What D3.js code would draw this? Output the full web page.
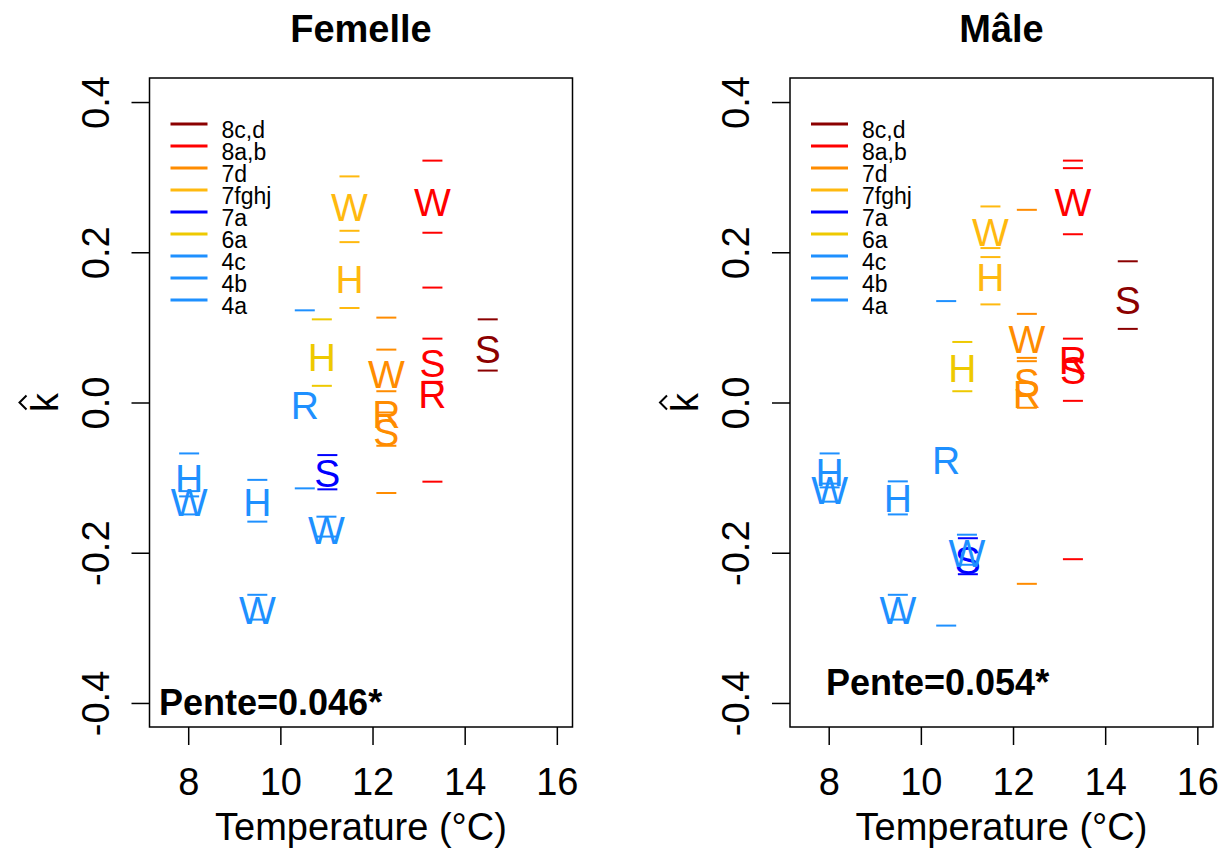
<!DOCTYPE html>
<html>
<head>
<meta charset="utf-8">
<script src="https://cdn.jsdelivr.net/npm/d3@7"></script>
<style>
  body { margin: 0; background: #fff; }
  svg { display: block; font-family: "Liberation Sans", Arial, Helvetica, sans-serif; }
</style>
</head>
<body>
<svg id="chart" width="1221" height="848"></svg>
<script>
// regions (legend order) and their colours
const groups = ["8c,d", "8a,b", "7d", "7fghj", "7a", "6a", "4c", "4b", "4a"];
const groupColors = ["#8B0000", "#FF0000", "#FF8C00", "#FFB90F", "#0000FF", "#EEC900", "#1E90FF", "#1E90FF", "#1E90FF"];

const xTicks = [8, 10, 12, 14, 16];
const yTicks = [-0.4, -0.2, 0, 0.2, 0.4];

// Femelle
const femLetters = ["S", "W", "S", "R", "W", "R", "S", "W", "H", "S", "H", "R", "W", "H", "W", "H", "W"];
const femGroup = ["8c,d", "8a,b", "8a,b", "8a,b", "7d", "7d", "7d", "7fghj", "7fghj", "7a", "6a", "4c", "4c", "4b", "4b", "4a", "4a"];
const femTemp = [14.5, 13.3, 13.3, 13.3, 12.3, 12.3, 12.3, 11.5, 11.5, 11.02, 10.9, 10.53, 11.0, 9.5, 9.5, 8.02, 8.02];
const femK = [0.071, 0.2675, 0.052, 0.012, 0.0385, -0.0146, -0.039, 0.26, 0.165, -0.094, 0.0607, -0.0035, -0.17, -0.132, -0.276, -0.1, -0.132];
const femLo = [0.0425, 0.226, 0.0275, -0.1054, 0.015, -0.1205, -0.0576, 0.2286, 0.1258, -0.1156, 0.0222, -0.1143, -0.1785, -0.1586, -0.289, -0.118, -0.149];
const femHi = [0.1107, 0.322, 0.085, 0.153, 0.0704, 0.113, -0.0133, 0.301, 0.2135, -0.07, 0.1107, 0.1227, -0.152, -0.103, -0.256, -0.0678, -0.125];

// Mâle
const maleLetters = ["S", "W", "R", "S", "W", "S", "R", "W", "H", "S", "H", "R", "W", "H", "W", "H", "W"];
const maleGroup = ["8c,d", "8a,b", "8a,b", "8a,b", "7d", "7d", "7d", "7fghj", "7fghj", "7a", "6a", "4c", "4c", "4b", "4b", "4a", "4a"];
const maleTemp = [14.49, 13.3, 13.3, 13.3, 12.3, 12.3, 12.3, 11.51, 11.51, 11.02, 10.9, 10.55, 11.0, 9.5, 9.5, 8.02, 8.02];
const maleK = [0.136, 0.2675, 0.056, 0.043, 0.085, 0.0275, 0.012, 0.2268, 0.167, -0.2095, 0.046, -0.0767, -0.2007, -0.1276, -0.276, -0.092, -0.1165];
const maleLo = [0.098, 0.224, -0.2086, 0.0022, 0.0594, -0.007, -0.2414, 0.1936, 0.1306, -0.2286, 0.015, -0.297, -0.216, -0.149, -0.289, -0.113, -0.132];
const maleHi = [0.188, 0.322, 0.312, 0.085, 0.118, 0.055, 0.2565, 0.261, 0.2056, -0.1807, 0.0806, 0.135, -0.176, -0.105, -0.256, -0.0678, -0.108];

const panels = [
  { title: "Femelle", left: 149.5, right: 572.5, slope: "Pente=0.046*", slopeX: 159, slopeY: 715,
    letters: femLetters, group: femGroup, temp: femTemp, k: femK, lo: femLo, hi: femHi },
  { title: "Mâle", left: 790, right: 1213, slope: "Pente=0.054*", slopeX: 826, slopeY: 695,
    letters: maleLetters, group: maleGroup, temp: maleTemp, k: maleK, lo: maleLo, hi: maleHi }
];

const plotTop = 78, plotBottom = 727;
const color = d3.scaleOrdinal().domain(groups).range(groupColors);
const svg = d3.select("#chart");

svg.append("rect").attr("width", 1221).attr("height", 848).attr("fill", "#fff");

panels.forEach(drawPanel);

function drawPanel(p) {
  // R style axes: 4% padding around xlim = c(7.5, 16), ylim = c(-0.4, 0.4)
  const x = d3.scaleLinear().domain([7.16, 16.34]).range([p.left, p.right]);
  const y = d3.scaleLinear().domain([-0.432, 0.432]).range([plotBottom, plotTop]);
  const g = svg.append("g");

  // x axis
  const xa = g.append("g")
    .attr("transform", `translate(0,${plotBottom})`)
    .call(d3.axisBottom(x).tickValues(xTicks).tickSize(18).tickFormat(d3.format("d")));
  xa.select(".domain").remove();
  xa.selectAll("line").attr("stroke", "#000").attr("stroke-width", 1.5);
  xa.selectAll("text")
    .attr("y", 68).attr("dy", null)
    .style("font-size", "38px").attr("fill", "#000");

  // y axis, labels parallel to the axis
  const ya = g.append("g")
    .attr("transform", `translate(${p.left},0)`)
    .call(d3.axisLeft(y).tickValues(yTicks).tickSize(18).tickFormat((d) => d.toFixed(1)));
  ya.select(".domain").remove();
  ya.selectAll("line").attr("stroke", "#000").attr("stroke-width", 1.5);
  ya.selectAll("text")
    .attr("x", null).attr("dy", null)
    .attr("text-anchor", "middle")
    .attr("transform", "translate(-41,0) rotate(-90)")
    .style("font-size", "38px").attr("fill", "#000");

  // box
  g.append("rect")
    .attr("x", p.left).attr("y", plotTop)
    .attr("width", p.right - p.left).attr("height", plotBottom - plotTop)
    .attr("fill", "none").attr("stroke", "#000").attr("stroke-width", 1.5);

  const cx = (p.left + p.right) / 2;

  g.append("text")
    .attr("x", cx).attr("y", 42)
    .attr("text-anchor", "middle")
    .style("font-size", "38px").style("font-weight", "bold")
    .text(p.title);

  g.append("text")
    .attr("x", cx).attr("y", 840)
    .attr("text-anchor", "middle")
    .style("font-size", "38px")
    .text("Temperature (°C)");

  // y label: k with a hat, rotated like the tick labels
  const yl = g.append("g")
    .attr("transform", `translate(${p.left - 92},${(plotTop + plotBottom) / 2}) rotate(-90)`);
  yl.append("text")
    .attr("text-anchor", "middle")
    .style("font-size", "38px")
    .text("k");
  yl.append("path")
    .attr("d", "M-7,-31 L0,-38 L7,-31")
    .attr("fill", "none").attr("stroke", "#000").attr("stroke-width", 2);

  // legend
  const legend = g.append("g")
    .selectAll(".legend")
    .data(groups)
    .enter()
    .append("g")
    .attr("class", "legend")
    .attr("transform", (d, i) => `translate(${p.left + 21},${124 + i * 22})`);

  legend.append("line")
    .attr("x1", 0).attr("x2", 37)
    .attr("stroke", (d) => color(d))
    .attr("stroke-width", 3);

  legend.append("text")
    .attr("x", 51).attr("y", 14)
    .style("font-size", "23px")
    .text((d) => d);

  // interval ends
  const idx = d3.range(p.letters.length);
  ["lo", "hi"].forEach((key) => {
    g.selectAll(".dash-" + key)
      .data(idx)
      .enter()
      .append("line")
      .attr("class", "dash-" + key)
      .attr("x1", (i) => x(p.temp[i]) - 10)
      .attr("x2", (i) => x(p.temp[i]) + 10)
      .attr("y1", (i) => y(p[key][i]))
      .attr("y2", (i) => y(p[key][i]))
      .attr("stroke", (i) => color(p.group[i]))
      .attr("stroke-width", 2);
  });

  // estimates drawn as letters
  g.selectAll(".pt")
    .data(idx)
    .enter()
    .append("text")
    .attr("class", "pt")
    .attr("x", (i) => x(p.temp[i]))
    .attr("y", (i) => y(p.k[i]))
    .attr("dy", "0.36em")
    .attr("text-anchor", "middle")
    .style("font-size", "39px")
    .attr("fill", (i) => color(p.group[i]))
    .text((i) => p.letters[i]);

  g.append("text")
    .attr("x", p.slopeX).attr("y", p.slopeY)
    .style("font-size", "36px").style("font-weight", "bold")
    .text(p.slope);
}
</script>
</body>
</html>
